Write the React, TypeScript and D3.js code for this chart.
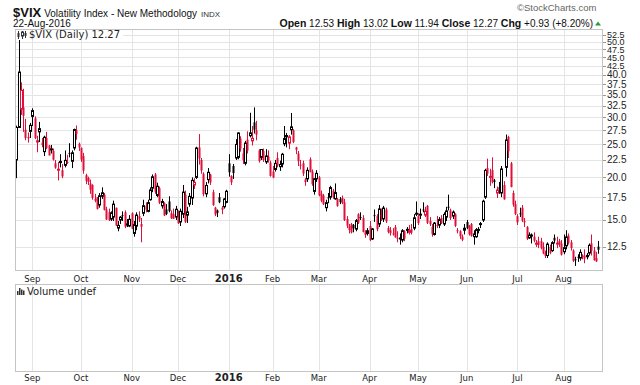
import { useMemo } from 'react'
import * as d3 from 'd3'

// daily candles, one small array per month: [day, open, high, low, close]
type Row = [number, number, number, number, number]

const aug15: Row[] = [
  [20, 15.25, 19.8, 15.1, 19.14], [21, 22.5, 28.38, 19.9, 28.03], [24, 28.03, 53.29, 28.03, 40.74],
  [25, 31.7, 38.0, 30.5, 36.02], [26, 32.1, 36.4, 27.2, 30.32], [27, 27.6, 29.7, 25.7, 26.1],
  [28, 26.3, 27.1, 25.3, 26.05], [31, 27.3, 28.9, 26.1, 28.43],
]
const sep15: Row[] = [
  [1, 30.2, 31.9, 28.3, 31.4], [2, 29.8, 30.2, 25.9, 26.09], [3, 25.4, 26.5, 23.7, 25.61],
  [4, 27.2, 29.1, 25.4, 27.8], [8, 25.3, 26.1, 24.5, 24.9], [9, 23.8, 26.5, 23.1, 26.23],
  [10, 26.1, 27.2, 24.2, 24.37], [11, 24.8, 24.9, 23.2, 23.2], [14, 24.1, 24.9, 23.5, 24.25],
  [15, 23.9, 24.3, 22.4, 22.54], [16, 22.0, 22.5, 21.2, 21.35], [17, 21.1, 22.2, 19.6, 21.14],
  [18, 22.1, 23.4, 21.4, 22.28], [21, 21.0, 21.9, 19.9, 20.14], [22, 21.7, 24.0, 21.4, 22.44],
  [23, 22.2, 23.3, 21.9, 22.13], [24, 23.6, 25.2, 22.9, 23.47], [25, 22.3, 24.0, 21.3, 23.62],
  [28, 24.4, 27.8, 24.0, 27.63], [29, 27.5, 28.4, 25.8, 26.83], [30, 25.1, 25.3, 23.9, 24.5],
]
const oct15: Row[] = [
  [1, 24.4, 24.5, 22.2, 22.55], [2, 23.1, 23.6, 20.5, 20.94], [5, 20.3, 20.5, 19.1, 19.54],
  [6, 19.9, 20.1, 19.0, 19.4], [7, 19.2, 19.7, 17.9, 18.4], [8, 19.0, 19.1, 17.2, 17.42],
  [9, 17.3, 17.9, 16.9, 17.08], [12, 17.5, 17.5, 16.1, 16.17], [13, 16.6, 18.0, 16.3, 17.67],
  [14, 17.6, 18.7, 17.3, 18.03], [15, 17.8, 18.0, 16.0, 16.05], [16, 16.1, 16.4, 15.0, 15.05],
  [19, 15.8, 16.2, 14.9, 14.98], [20, 15.1, 15.9, 14.9, 15.75], [21, 15.3, 17.1, 14.9, 16.7],
  [22, 16.3, 16.3, 14.4, 14.45], [23, 14.2, 14.9, 13.9, 14.46], [26, 15.0, 15.4, 14.6, 15.29],
  [27, 15.5, 15.9, 14.9, 15.43], [28, 15.8, 16.0, 14.2, 14.33], [29, 14.5, 15.1, 14.3, 14.61],
  [30, 14.4, 15.5, 14.3, 15.07],
]
const nov15: Row[] = [
  [2, 15.7, 15.8, 14.1, 14.15], [3, 13.7, 14.9, 13.4, 14.54], [4, 14.4, 15.8, 14.0, 15.51],
  [5, 15.4, 15.9, 14.8, 15.05], [6, 14.6, 15.2, 12.9, 14.33], [9, 15.7, 17.2, 15.4, 16.52],
  [10, 16.5, 16.9, 15.8, 16.06], [11, 15.9, 17.2, 15.8, 16.87], [12, 17.2, 18.7, 17.1, 18.37],
  [13, 18.6, 20.4, 18.1, 20.08], [16, 20.4, 20.6, 17.9, 18.16], [17, 17.7, 19.3, 17.5, 18.84],
  [18, 18.6, 18.8, 16.7, 16.85], [19, 16.5, 17.3, 16.2, 16.99], [20, 16.8, 16.9, 15.4, 15.47],
  [23, 16.1, 16.7, 15.5, 15.62], [24, 17.0, 17.6, 15.8, 15.93], [25, 15.7, 16.0, 15.1, 15.19],
  [27, 15.6, 16.2, 15.1, 15.12], [30, 15.3, 16.5, 15.0, 16.13],
]
const dec15: Row[] = [
  [1, 15.9, 16.0, 14.6, 14.67], [2, 14.8, 16.2, 14.4, 15.91], [3, 15.6, 19.0, 15.2, 18.11],
  [4, 17.8, 18.3, 14.7, 14.81], [7, 15.5, 16.4, 14.7, 15.84], [8, 16.7, 18.0, 16.4, 17.6],
  [9, 17.4, 20.0, 16.6, 19.61], [10, 19.0, 19.9, 18.5, 19.34], [11, 20.0, 24.6, 19.8, 24.39],
  [14, 24.5, 26.8, 21.8, 22.73], [15, 22.5, 22.8, 20.5, 20.95], [16, 20.5, 20.7, 17.6, 17.86],
  [17, 17.9, 19.4, 17.5, 18.94], [18, 19.7, 21.3, 19.2, 20.7], [21, 20.4, 20.5, 19.0, 19.34],
  [22, 18.1, 18.4, 16.5, 16.6], [23, 16.3, 16.4, 15.4, 15.57], [24, 16.0, 16.1, 15.3, 15.74],
  [28, 17.5, 18.0, 16.8, 16.91], [29, 16.3, 16.5, 15.6, 16.08], [30, 16.4, 17.4, 16.2, 17.29],
  [31, 16.9, 18.4, 16.8, 18.21],
]
const jan16: Row[] = [
  [4, 22.0, 23.4, 20.1, 20.7], [5, 20.2, 20.3, 19.0, 19.34], [6, 21.6, 21.9, 19.8, 20.59],
  [7, 22.8, 25.9, 22.5, 24.99], [8, 22.9, 27.1, 22.6, 27.01], [11, 26.0, 26.4, 23.8, 24.3],
  [12, 23.5, 24.4, 21.9, 22.47], [13, 22.0, 25.6, 21.7, 25.22], [14, 25.8, 27.3, 23.5, 23.95],
  [15, 26.5, 30.95, 26.2, 27.02], [19, 25.6, 28.3, 24.8, 26.05], [20, 29.0, 32.09, 26.9, 27.59],
  [21, 27.5, 29.3, 25.7, 26.69], [22, 24.0, 24.2, 22.1, 22.34], [25, 22.9, 24.2, 22.5, 24.15],
  [26, 23.9, 24.3, 22.2, 22.5], [27, 22.2, 24.2, 21.9, 23.11], [28, 23.0, 24.0, 22.1, 22.42],
  [29, 22.1, 22.4, 20.1, 20.2],
]
const feb16: Row[] = [
  [1, 20.8, 21.6, 19.9, 19.98], [2, 21.1, 22.5, 20.8, 21.98], [3, 22.8, 23.7, 21.4, 21.65],
  [4, 21.5, 22.4, 20.9, 21.84], [5, 21.9, 23.6, 21.4, 23.38], [8, 25.1, 28.3, 24.7, 26.0],
  [9, 26.3, 27.0, 24.5, 26.54], [10, 25.2, 26.6, 24.2, 26.29], [11, 27.6, 30.9, 26.7, 28.14],
  [12, 27.5, 27.7, 25.2, 25.4], [16, 24.5, 24.6, 23.4, 24.11], [17, 23.5, 23.9, 21.6, 22.31],
  [18, 21.8, 22.5, 21.1, 21.64], [19, 22.0, 22.4, 20.2, 20.53], [22, 19.7, 19.9, 18.9, 19.38],
  [23, 19.8, 21.4, 19.4, 20.98], [24, 22.6, 22.9, 20.7, 20.72], [25, 20.8, 21.1, 18.9, 19.11],
  [26, 18.2, 19.9, 17.8, 19.81], [29, 19.8, 21.0, 19.4, 20.55],
]
const mar16: Row[] = [
  [1, 20.0, 20.2, 17.6, 17.7], [2, 17.9, 18.3, 16.9, 17.09], [3, 17.7, 17.9, 16.6, 16.7],
  [4, 16.3, 17.2, 15.9, 16.86], [7, 17.5, 18.0, 16.8, 17.35], [8, 17.5, 18.9, 17.2, 18.67],
  [9, 18.3, 18.5, 17.3, 17.5], [10, 17.3, 19.2, 17.2, 18.05], [11, 17.3, 17.4, 16.4, 16.5],
  [14, 17.3, 17.5, 16.7, 16.92], [15, 17.4, 17.7, 16.7, 16.84], [16, 16.9, 17.3, 14.9, 14.99],
  [17, 15.1, 15.4, 14.2, 14.44], [18, 14.4, 14.6, 13.7, 14.02], [21, 14.6, 14.7, 13.7, 13.79],
  [22, 14.5, 14.6, 13.8, 14.17], [23, 14.1, 15.1, 13.9, 14.94], [24, 15.6, 15.7, 14.6, 14.74],
  [28, 15.3, 15.8, 15.0, 15.24], [29, 15.2, 15.5, 13.8, 13.82], [30, 13.8, 14.0, 13.3, 13.56],
  [31, 13.7, 14.2, 13.5, 13.95],
]
const apr16: Row[] = [
  [1, 14.4, 14.9, 13.0, 13.1], [4, 13.2, 14.2, 13.1, 14.12], [5, 15.5, 16.1, 14.8, 15.42],
  [6, 15.4, 15.6, 13.9, 14.09], [7, 14.6, 16.6, 14.3, 16.16], [8, 15.5, 16.2, 14.9, 15.36],
  [11, 15.1, 16.5, 14.8, 16.26], [12, 16.1, 16.3, 14.7, 14.85], [13, 14.2, 14.4, 13.7, 13.84],
  [14, 14.0, 14.3, 13.5, 13.72], [15, 13.7, 14.2, 13.5, 13.62], [18, 14.3, 14.5, 13.3, 13.35],
  [19, 13.3, 13.9, 12.9, 13.24], [20, 13.2, 13.7, 12.7, 13.28], [21, 13.1, 14.1, 12.9, 13.95],
  [22, 13.9, 14.0, 13.0, 13.22], [25, 14.0, 14.3, 13.7, 14.08], [26, 13.8, 14.5, 13.6, 13.96],
  [27, 14.1, 14.6, 13.6, 13.77], [28, 14.2, 15.6, 14.0, 15.22], [29, 15.6, 17.0, 15.4, 15.7],
]
const may16: Row[] = [
  [2, 15.4, 15.7, 14.5, 14.68], [3, 15.5, 16.2, 15.1, 15.6], [4, 16.1, 16.9, 15.8, 16.05],
  [5, 15.5, 16.4, 15.3, 15.91], [6, 16.5, 16.6, 14.6, 14.72], [9, 14.9, 15.3, 14.4, 14.57],
  [10, 14.3, 14.6, 13.4, 13.63], [11, 13.6, 14.8, 13.5, 14.69], [12, 14.5, 15.4, 14.2, 14.41],
  [13, 14.5, 15.3, 14.2, 15.04], [16, 15.2, 15.5, 14.6, 14.68], [17, 14.6, 15.8, 14.4, 15.57],
  [18, 15.3, 16.4, 14.9, 15.95], [19, 16.4, 17.8, 16.0, 16.33], [20, 16.0, 16.2, 15.0, 15.2],
  [23, 15.4, 16.0, 15.1, 15.82], [24, 15.6, 15.7, 14.3, 14.42], [25, 14.0, 14.2, 13.7, 13.9],
  [26, 13.9, 14.0, 13.2, 13.43], [27, 13.4, 13.6, 13.0, 13.12], [31, 14.0, 14.6, 13.6, 14.19],
]
const jun16: Row[] = [
  [1, 14.8, 15.0, 14.1, 14.2], [2, 14.4, 14.5, 13.5, 13.63], [3, 14.6, 14.7, 13.4, 13.47],
  [6, 13.4, 14.0, 12.7, 13.65], [7, 13.4, 14.2, 13.3, 14.05], [8, 14.0, 14.3, 13.7, 14.08],
  [9, 14.6, 14.8, 14.2, 14.64], [10, 15.0, 17.2, 14.8, 17.03], [13, 17.5, 21.2, 17.3, 20.97],
  [14, 21.3, 22.7, 20.2, 20.5], [15, 20.1, 21.2, 18.9, 20.14], [16, 21.0, 22.9, 19.2, 19.37],
  [17, 19.6, 19.8, 18.6, 19.41], [20, 18.0, 18.8, 17.4, 18.37], [21, 18.7, 19.4, 17.9, 18.48],
  [22, 18.0, 21.6, 17.5, 21.17], [23, 19.0, 19.5, 17.2, 17.25], [24, 21.4, 26.72, 20.1, 25.76],
  [27, 26.3, 26.5, 22.8, 23.85], [28, 22.0, 22.2, 18.7, 18.75], [29, 18.0, 18.3, 16.4, 16.64],
  [30, 16.7, 17.1, 15.5, 15.63],
]
const jul16: Row[] = [
  [1, 15.4, 15.6, 14.5, 14.77], [5, 15.7, 16.3, 15.3, 15.58], [6, 16.3, 16.6, 14.8, 14.96],
  [7, 14.9, 15.2, 14.3, 14.76], [8, 14.3, 14.4, 13.1, 13.2], [11, 13.3, 13.8, 13.2, 13.54],
  [12, 13.5, 13.7, 12.8, 13.55], [13, 13.4, 13.8, 12.9, 13.04], [14, 12.8, 13.1, 12.5, 12.82],
  [15, 13.0, 13.4, 12.4, 12.67], [18, 13.0, 13.3, 12.3, 12.44], [19, 12.5, 12.9, 11.9, 11.97],
  [20, 12.0, 12.2, 11.6, 11.77], [21, 11.8, 12.9, 11.6, 12.74], [22, 12.5, 12.7, 11.9, 12.02],
  [25, 12.2, 13.0, 12.1, 12.87], [26, 13.3, 13.6, 12.8, 13.05], [27, 12.8, 13.4, 12.4, 12.83],
  [28, 13.0, 13.2, 12.5, 12.72], [29, 12.8, 13.1, 11.8, 11.87],
]
const aug16: Row[] = [
  [1, 12.1, 13.6, 11.9, 12.44], [2, 12.6, 14.0, 12.3, 13.37], [3, 13.5, 13.7, 12.7, 12.86],
  [4, 12.9, 13.1, 12.2, 12.42], [5, 12.2, 12.3, 11.3, 11.39], [8, 11.5, 11.7, 11.0, 11.5],
  [9, 11.7, 11.9, 11.3, 11.66], [10, 11.6, 12.3, 11.4, 12.05], [11, 11.8, 11.9, 11.5, 11.68],
  [12, 11.8, 12.3, 11.2, 11.55], [15, 11.7, 12.0, 11.5, 11.81], [16, 12.0, 12.8, 11.8, 12.64],
  [17, 12.8, 13.6, 11.8, 12.19], [18, 12.2, 12.5, 11.4, 11.43], [19, 11.6, 12.1, 11.3, 11.34],
  [22, 12.53, 13.02, 11.94, 12.27],
]

const months: [number, number, Row[]][] = [
  [2015, 8, aug15], [2015, 9, sep15], [2015, 10, oct15], [2015, 11, nov15], [2015, 12, dec15],
  [2016, 1, jan16], [2016, 2, feb16], [2016, 3, mar16], [2016, 4, apr16], [2016, 5, may16],
  [2016, 6, jun16], [2016, 7, jul16], [2016, 8, aug16],
]

const yTicks = [12.5, 15, 17.5, 20, 22.5, 25, 27.5, 30, 32.5, 35, 37.5, 40, 42.5, 45, 47.5, 50, 52.5]
const monthNames = ['Jan', 'Feb', 'Mar', 'Apr', 'May', 'Jun', 'Jul', 'Aug', 'Sep', 'Oct', 'Nov', 'Dec']

const W = 640
const H = 385
const plot = { left: 15, right: 603, top: 29, bottom: 270 }
const vol = { top: 284, bottom: 371 }
const RED = '#e0103a'
const GRID = '#e4e4e4'
const BORDER = '#c4c4c4'
const SANS = '"Liberation Sans", Arial, sans-serif'
const VERD = '"DejaVu Sans", Verdana, sans-serif'

interface Candle { key: string; year: number; month: number; o: number; h: number; l: number; c: number }

export default function App() {
  const candles: Candle[] = useMemo(
    () => months.flatMap(([year, month, rows]) =>
      rows.map(([d, o, h, l, c]) => ({ key: `${year}-${month}-${d}`, year, month, o, h, l, c }))),
    []
  )

  const x = d3.scalePoint<string>().domain(candles.map(d => d.key)).range([13.9, 598.3])
  const y = d3.scaleLog().domain([10.7, 54.5]).range([plot.bottom, plot.top])

  // first trading day of each month -> month gridlines / labels
  const monthStarts = candles.filter((d, i) => i > 0 && d.month !== candles[i - 1].month)

  const xLabels = (baseline: number) => monthStarts.map(d => (
    <text key={d.key} x={x(d.key)} y={baseline} textAnchor="middle" fontFamily={VERD}
      fontSize={d.month === 1 ? 10 : 8.5} fontWeight={d.month === 1 ? 'bold' : 'normal'} fill="#222">
      {d.month === 1 ? String(d.year) : monthNames[d.month - 1]}
    </text>
  ))

  return (
    <svg width={W} height={H} style={{ position: 'absolute', left: 0, top: 0, background: '#fff' }}>
      <defs>
        <clipPath id="plotClip">
          <rect x={plot.left} y={plot.top} width={plot.right - plot.left} height={plot.bottom - plot.top} />
        </clipPath>
      </defs>

      {/* header */}
      <text x={13} y={17} fontFamily={SANS} fill="#111">
        <tspan fontSize={13} fontWeight="bold">$VIX</tspan>
        <tspan dx={3} fontSize={10}>Volatility Index - New Methodology</tspan>
        <tspan dx={4} fontSize={8} fill="#333">INDX</tspan>
      </text>
      <text x={13} y={26.5} fontFamily={SANS} fontSize={10} fill="#111">22-Aug-2016</text>
      <text x={517} y={11} fontFamily={SANS} fontSize={9.5} fill="#666">©StockCharts.com</text>
      <text x={593} y={26.5} textAnchor="end" fontFamily={SANS} fontSize={10} fill="#111">
        <tspan fontWeight="bold" fontSize={10.5}>Open</tspan><tspan> 12.53 </tspan>
        <tspan fontWeight="bold" fontSize={10.5}>High</tspan><tspan> 13.02 </tspan>
        <tspan fontWeight="bold" fontSize={10.5}>Low</tspan><tspan> 11.94 </tspan>
        <tspan fontWeight="bold" fontSize={10.5}>Close</tspan><tspan> 12.27 </tspan>
        <tspan fontWeight="bold" fontSize={10.5}>Chg</tspan><tspan> +0.93 (+8.20%)</tspan>
      </text>
      <path d="M595,25.5 L598,21.5 L601,25.5 Z" fill="#2e9a3a" />

      {/* price panel grid */}
      {yTicks.map(t => (
        <line key={t} x1={plot.left} x2={plot.right} y1={Math.round(y(t)) + 0.5} y2={Math.round(y(t)) + 0.5}
          stroke={GRID} />
      ))}
      {monthStarts.map(d => (
        <line key={d.key} x1={Math.round(x(d.key)!) + 0.5} x2={Math.round(x(d.key)!) + 0.5}
          y1={plot.top} y2={plot.bottom} stroke={GRID} />
      ))}

      {/* candles: black when close >= prior close, red otherwise; hollow when close > open */}
      <g clipPath="url(#plotClip)">
        {candles.map((d, i) => {
          const cx = Math.round(x(d.key)!)
          const up = i === 0 || d.c >= candles[i - 1].c
          const color = up ? '#000' : RED
          const hollow = d.c > d.o
          const top = y(Math.max(d.o, d.c))
          const bot = y(Math.min(d.o, d.c))
          return (
            <g key={d.key}>
              <line x1={cx + 0.5} x2={cx + 0.5} y1={y(d.h)} y2={y(d.l)} stroke={color} strokeWidth={1} />
              {hollow ? (
                <rect x={cx - 0.5} y={top} width={2} height={Math.max(1, bot - top)}
                  fill="#fff" stroke={color} strokeWidth={1} />
              ) : (
                <rect x={cx - 0.5} y={top} width={2} height={Math.max(1, bot - top)} fill={color} />
              )}
            </g>
          )
        })}
      </g>

      {/* price panel frame + right axis */}
      <rect x={plot.left + 0.5} y={plot.top + 0.5} width={plot.right - plot.left - 1} height={plot.bottom - plot.top}
        fill="none" stroke={BORDER} />
      {yTicks.map(t => (
        <g key={t}>
          <line x1={plot.right} x2={plot.right + 3} y1={Math.round(y(t)) + 0.5} y2={Math.round(y(t)) + 0.5}
            stroke="#999" />
          <text x={plot.right + 4} y={y(t)} dy="0.35em" fontFamily={SANS} fontSize={t > 40 ? 9 : 10} fill="#222">
            {t.toFixed(1)}
          </text>
        </g>
      ))}

      {/* legend box */}
      <rect x={16} y={30} width={107} height={10} fill="#fff" />
      <g fill="#333" stroke="#333">
        <line x1={18.5} x2={18.5} y1={31} y2={39} />
        <rect x={17.5} y={33} width={2} height={4} stroke="none" />
        <line x1={22.5} x2={22.5} y1={31} y2={39} />
        <rect x={21.5} y={32} width={2} height={4} fill="#fff" />
        <line x1={25.5} x2={25.5} y1={31} y2={38} />
        <rect x={24.5} y={33} width={2} height={3} stroke="none" />
      </g>
      <text x={29} y={38} fontFamily={VERD} fontSize={10} fill="#222">$VIX (Daily) 12.27</text>

      {xLabels(282)}

      {/* volume panel */}
      {monthStarts.map(d => (
        <line key={d.key} x1={Math.round(x(d.key)!) + 0.5} x2={Math.round(x(d.key)!) + 0.5}
          y1={vol.top} y2={vol.bottom} stroke={GRID} />
      ))}
      <rect x={plot.left + 0.5} y={vol.top + 0.5} width={plot.right - plot.left - 1} height={vol.bottom - vol.top}
        fill="none" stroke={BORDER} />
      <g fill="#333">
        <rect x={17} y={291} width={1.5} height={4} />
        <rect x={19} y={288} width={1.5} height={7} />
        <rect x={21} y={289.5} width={1.5} height={5.5} />
        <rect x={23} y={290.5} width={1.5} height={4.5} />
      </g>
      <text x={27} y={295} fontFamily={VERD} fontSize={10} fill="#222">Volume undef</text>

      {xLabels(381)}
    </svg>
  )
}
